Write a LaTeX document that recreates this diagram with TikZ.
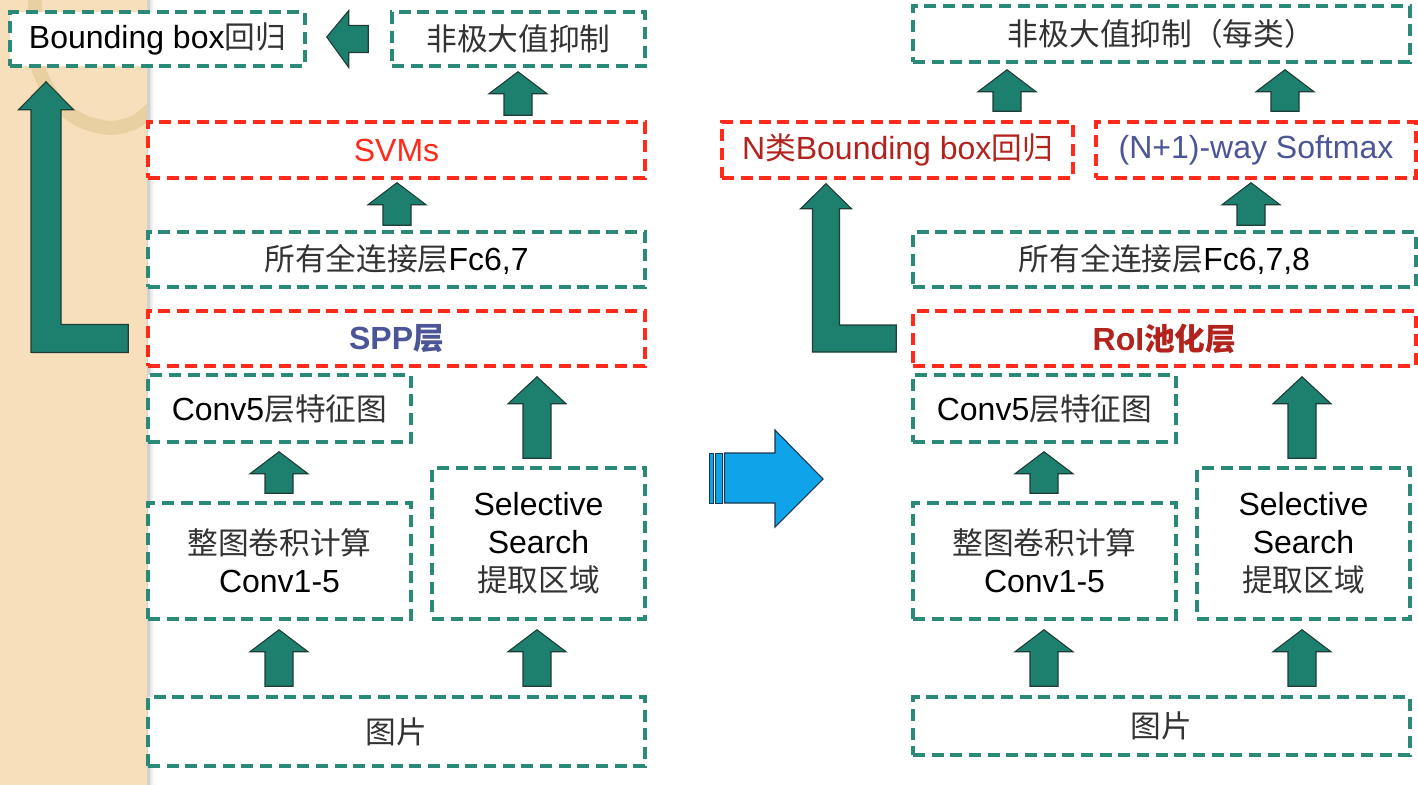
\documentclass[tikz,border=0pt]{standalone}
\usepackage{fontspec}
\setmainfont{Liberation Sans}
\newfontfamily\cjk{Noto Sans CJK SC}[Scale=0.96]
\usetikzlibrary{calc}
\definecolor{teal1}{HTML}{2A8A77}
\definecolor{afill}{HTML}{1D7F6E}
\definecolor{aline}{HTML}{1E3D36}
\definecolor{red1}{HTML}{FF2A1A}
\definecolor{slate}{HTML}{4B5597}
\definecolor{dred}{HTML}{B3221C}
\definecolor{beige}{HTML}{F6DFBA}
\definecolor{ringc}{HTML}{E8D0A2}
\definecolor{cjkgray}{HTML}{333333}
\definecolor{blue1}{HTML}{0FA4EA}
\definecolor{blueline}{HTML}{1C3550}
\newcommand\zh[1]{{\cjk #1}}
\newcommand\zg[1]{{\cjk\color{cjkgray}#1}}
% box: style, name, x1, y1, x2, y2, text (pixel units)
\newcommand\mkbox[7]{\node[#1, minimum width={(#5-#3)*0.75pt}, minimum height={(#6-#4)*0.75pt}] (#2) at ({(#3+#5)/2},{(#4+#6)/2}) {#7};}
% block up arrow: src, dst, x, bottom gap, top gap, head length (px)
\newcommand\upar[6]{\draw[barrow] let \p1=(#1.north), \p2=(#2.south), \p3=(#3,0) in
 ({\x3-10.5pt},{\y1+#4*0.75pt}) -- ({\x3-10.5pt},{\y2-#5*0.75pt-#6*0.75pt}) -- ({\x3-21.75pt},{\y2-#5*0.75pt-#6*0.75pt}) -- ({\x3},{\y2-#5*0.75pt}) -- ({\x3+21.75pt},{\y2-#5*0.75pt-#6*0.75pt}) -- ({\x3+10.5pt},{\y2-#5*0.75pt-#6*0.75pt}) -- ({\x3+10.5pt},{\y1+#4*0.75pt}) -- cycle;}
% L arrow: src, dst, shaft centre x, shaft half, head half, right gap, top gap, head length, bar half (px)
\newcommand\Larrow[9]{\draw[barrow] let \p1=(#1.west), \p2=(#2.south), \p3=(#3,0) in
 ({\x1-#6*0.75pt},{\y1+#9*0.75pt}) -- ({\x3+#4*0.75pt},{\y1+#9*0.75pt}) -- ({\x3+#4*0.75pt},{\y2-#7*0.75pt-#8*0.75pt}) -- ({\x3+#5*0.75pt},{\y2-#7*0.75pt-#8*0.75pt}) -- ({\x3},{\y2-#7*0.75pt}) -- ({\x3-#5*0.75pt},{\y2-#7*0.75pt-#8*0.75pt}) -- ({\x3-#4*0.75pt},{\y2-#7*0.75pt-#8*0.75pt}) -- ({\x3-#4*0.75pt},{\y1-#9*0.75pt}) -- ({\x1-#6*0.75pt},{\y1-#9*0.75pt}) -- cycle;}
\tikzset{
 box/.style={draw, dash pattern=on 9pt off 5pt, line width=2.6pt, fill=white, inner sep=0pt, align=center, font=\fontsize{24}{28.5}\selectfont},
 gbox/.style={box, draw=teal1},
 rbox/.style={box, draw=red1},
 barrow/.style={fill=afill, draw=aline, line width=0.8pt, line join=miter},
 bluearrow/.style={fill=blue1, draw=blueline, line width=0.8pt}
}
\begin{document}
\begin{tikzpicture}[x=0.75pt,y=-0.75pt]
\useasboundingbox (0,0) rectangle (1418,785);
\fill[white] (0,0) rectangle (1418,785);
% beige strip
\fill[beige] (0,0) rectangle (150,785);
\begin{scope}
\clip (0,0) rectangle (148,785);
\draw[ringc, line width=10.5pt] plot[smooth] coordinates {(36,-10) (34,35) (39,70) (55,100) (80,120) (110,128) (135,122) (155,106)};
\end{scope}
\fill[black!18] (147,0) rectangle (150,785);
\shade[left color=black!10, right color=white] (150,0) rectangle (154,785);

% left panel boxes
\mkbox{gbox}{bbox}{10}{12}{305}{66}{Bounding box\zg{回归}}
\mkbox{gbox}{nms}{392}{12}{645}{66}{\zg{非极大值抑制}}
\mkbox{rbox}{svm}{148}{122}{645}{178}{\textcolor{red1}{SVMs}}
\mkbox{gbox}{fc}{148}{232}{645}{287}{\zg{所有全连接层}Fc6,7}
\mkbox{rbox}{spp}{148}{311}{645}{366}{\textcolor{slate}{\bfseries SPP\zh{层}}}
\mkbox{gbox}{conv5}{148}{375}{411}{442}{Conv5\zg{层特征图}}
\mkbox{gbox}{conv15}{148}{503}{411}{619}{\zg{整图卷积计算}\\Conv1-5}
\mkbox{gbox}{ss}{432}{468}{645}{619}{Selective\\Search\\\zg{提取区域}}
\mkbox{gbox}{img}{148}{697}{645}{766}{\zg{图片}}

% right panel boxes
\mkbox{gbox}{nmsr}{913}{6}{1410}{62}{\zg{非极大值抑制（每类）}}
\mkbox{rbox}{nbb}{722}{122}{1073}{178}{\textcolor{dred}{N\zh{类}Bounding box\zh{回归}}}
\mkbox{rbox}{soft}{1096}{122}{1416}{178}{\textcolor{slate}{(N+1)-way Softmax}}
\mkbox{gbox}{fcr}{913}{232}{1416}{287}{\zg{所有全连接层}Fc6,7,8}
\mkbox{rbox}{roi}{913}{311}{1416}{366}{\textcolor{dred}{\bfseries RoI\zh{池化层}}}
\mkbox{gbox}{conv5r}{913}{375}{1176}{442}{Conv5\zg{层特征图}}
\mkbox{gbox}{conv15r}{913}{503}{1176}{619}{\zg{整图卷积计算}\\Conv1-5}
\mkbox{gbox}{ssr}{1197}{468}{1410}{619}{Selective\\Search\\\zg{提取区域}}
\mkbox{gbox}{imgr}{913}{697}{1410}{755}{\zg{图片}}

% left arrow nms -> bbox
\draw[barrow] let \p1=(nms.west), \p2=(bbox.east) in
 ({\x1-16.5pt},{\y1+10.125pt}) -- ({\x2+31.5pt},{\y1+10.125pt}) -- ({\x2+31.5pt},{\y1+21.375pt}) -- ({\x2+15pt},{\y1+1.5pt}) -- ({\x2+31.5pt},{\y1-21.375pt}) -- ({\x2+31.5pt},{\y1-10.125pt}) -- ({\x1-16.5pt},{\y1-10.125pt}) -- cycle;

% up arrows left
\upar{svm}{nms}{518}{5}{4}{22}
\upar{fc}{svm}{397}{5}{3}{22}
\upar{ss}{spp}{537}{8}{9}{27}
\upar{conv15}{conv5}{279}{8}{8}{22}
\upar{img}{conv15}{279}{9}{9}{22}
\upar{img}{ss}{537}{9}{9}{22}
% up arrows right
\upar{nbb}{nmsr}{1007}{9}{6}{22}
\upar{soft}{nmsr}{1285}{9}{6}{22}
\upar{fcr}{soft}{1251}{5}{3}{22}
\upar{ssr}{roi}{1302}{8}{9}{27}
\upar{conv15r}{conv5r}{1044}{8}{8}{22}
\upar{imgr}{conv15r}{1044}{9}{9}{22}
\upar{imgr}{ssr}{1302}{9}{9}{22}

% L arrows
\Larrow{spp}{bbox}{46}{15}{27.5}{18}{14}{28}{14}
\Larrow{roi}{nbb}{826}{13.5}{25.5}{15}{4}{25}{13.5}

% blue arrow between panels
\filldraw[bluearrow, line width=0.6pt] (709,453) rectangle (713,503);
\filldraw[bluearrow, line width=0.6pt] (715.5,453) rectangle (722,503);
\filldraw[bluearrow] (724.5,453) -- (775,453) -- (775,430) -- (823,479) -- (775,527) -- (775,503) -- (724.5,503) -- cycle;
\end{tikzpicture}
\end{document}
